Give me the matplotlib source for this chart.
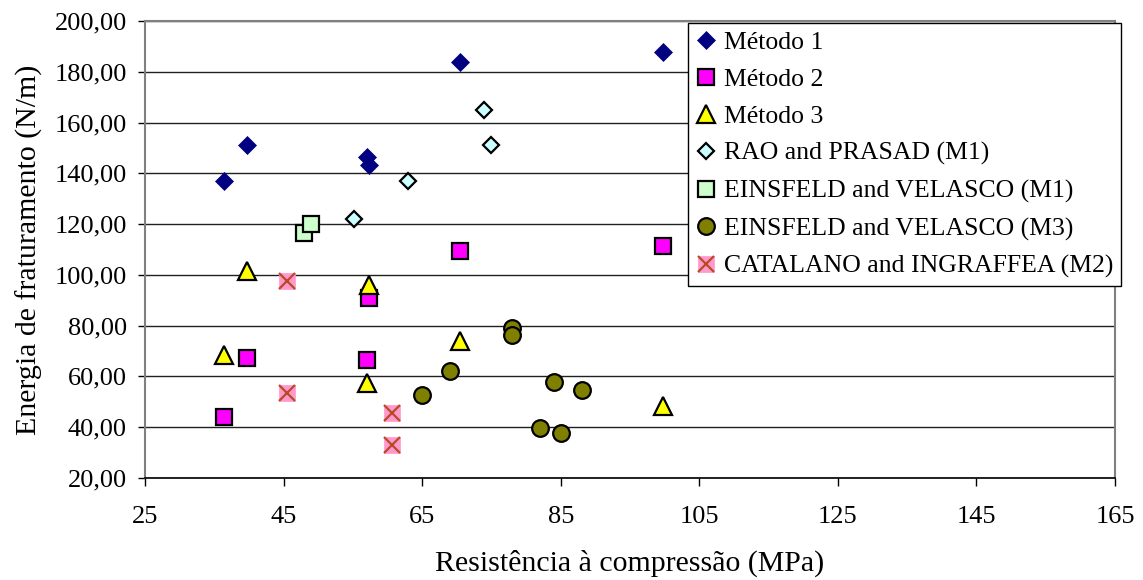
import matplotlib
matplotlib.use("Agg")
import matplotlib.pyplot as plt
from matplotlib.ticker import FuncFormatter, MultipleLocator
from matplotlib.legend_handler import HandlerTuple

plt.rcParams['font.family'] = ['Liberation Serif', 'DejaVu Serif']

# data
m1_x = [36.4, 39.7, 57.0, 57.4, 70.4, 99.8]
m1_y = [137.1, 151.2, 146.5, 143.3, 184.0, 187.7]

m2_x = [36.4, 39.7, 57.0, 57.4, 70.4, 99.8]
m2_y = [44.0, 67.2, 66.6, 90.8, 109.4, 111.3]

m3_x = [36.4, 39.7, 57.0, 57.4, 70.4, 99.8]
m3_y = [68.5, 101.7, 57.4, 96.1, 73.9, 48.2]

rao_x = [55.1, 63.0, 73.9, 75.0]
rao_y = [122.0, 137.0, 165.0, 151.0]

ev1_x = [48.0, 49.0]
ev1_y = [116.4, 120.2]

ev3_x = [65.0, 69.0, 77.9, 77.9, 82.0, 84.0, 85.0, 88.0]
ev3_y = [52.5, 62.0, 79.2, 76.2, 39.5, 57.8, 37.7, 54.5]

cat_x = [45.5, 45.5, 60.7, 60.7]
cat_y = [97.4, 53.4, 45.5, 33.1]

x_ticks = [25, 45, 65, 85, 105, 125, 145, 165]

fig = plt.figure(figsize=(11.43, 5.8), dpi=100)
ax = fig.add_axes([145 / 1143, 1 - 478 / 580, 970 / 1143, 457 / 580])

h1, = ax.plot(m1_x, m1_y, 'D', ms=9.2, mfc='#000080', mec='#000080', mew=0.5, ls='none', zorder=3)
h2, = ax.plot(m2_x, m2_y, 's', ms=11, mfc='#FF00FF', mec='black', mew=1.6, ls='none', zorder=3)
h3, = ax.plot(m3_x, m3_y, '^', ms=12.5, mfc='#FFFF00', mec='black', mew=1.6, ls='none', zorder=3)
h4, = ax.plot(rao_x, rao_y, 'D', ms=8, mfc='#CCFFFF', mec='black', mew=1.6, ls='none', zorder=3)
h5, = ax.plot(ev1_x, ev1_y, 's', ms=11, mfc='#CCFFCC', mec='black', mew=1.6, ls='none', zorder=3)
h6, = ax.plot(ev3_x, ev3_y, 'o', ms=12, mfc='#808000', mec='black', mew=1.6, ls='none', zorder=3)
h7a, = ax.plot(cat_x, cat_y, 's', ms=12, mfc='#FF99CC', mec='#FF99CC', mew=0.5, ls='none', zorder=3)
h7b, = ax.plot(cat_x, cat_y, 'x', ms=11.5, mec='#B84A2A', mew=1.6, ls='none', zorder=4)

ax.set_xlim(25, 165)
ax.set_ylim(20, 200)
ax.set_xticks(x_ticks)
ax.yaxis.set_major_locator(MultipleLocator(20))
ax.yaxis.set_major_formatter(FuncFormatter(lambda v, p: f"{v:.2f}".replace('.', ',')))

ax.yaxis.grid(True, color='#202020', lw=1)
ax.set_axisbelow(True)
for s in ['top', 'right', 'left']:
    ax.spines[s].set_color('#808080')
    ax.spines[s].set_linewidth(1.5)
ax.spines['bottom'].set_color('black')
ax.spines['bottom'].set_linewidth(1.2)

ax.tick_params(axis='y', direction='out', length=5, width=1, pad=8, labelsize=19)
ax.tick_params(axis='x', direction='out', length=6, width=1, pad=14, labelsize=19)

fig.text(630 / 1143, 1 - 563 / 580, 'Resistência à compressão (MPa)',
         ha='center', va='center', fontsize=21.5)
fig.text(29 / 1143, 1 - 250 / 580, 'Energia de fraturamento (N/m)',
         ha='center', va='center', rotation=90, fontsize=21.5)

labels = ['Método 1', 'Método 2', 'Método 3', 'RAO and PRASAD (M1)',
          'EINSFELD and VELASCO (M1)', 'EINSFELD and VELASCO (M3)',
          'CATALANO and INGRAFFEA (M2)']
leg = fig.legend([h1, h2, h3, h4, h5, h6, (h7a, h7b)], labels,
                 loc='upper left', bbox_to_anchor=(688 / 1143, 1 - 23 / 580),
                 fontsize=18.5, frameon=True, fancybox=False, framealpha=1,
                 edgecolor='black', handlelength=0.8, handletextpad=0.3,
                 borderpad=0.3, labelspacing=0.55, borderaxespad=0,
                 handler_map={tuple: HandlerTuple(ndivide=1)})
leg.get_frame().set_linewidth(1)

fig.savefig('out.png', dpi=100)
